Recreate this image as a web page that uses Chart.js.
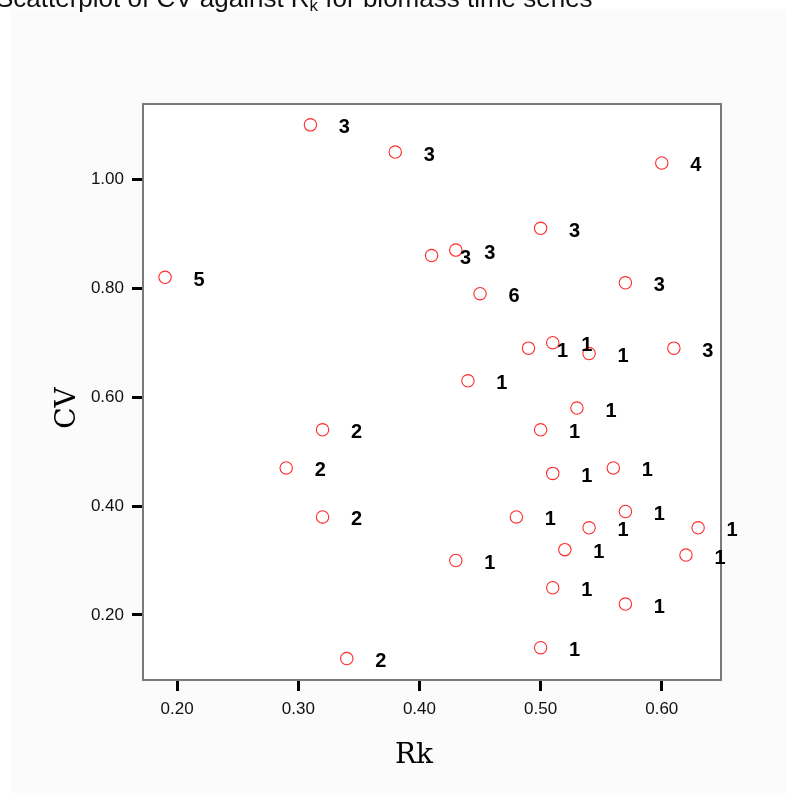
<!DOCTYPE html>
<html>
<head>
<meta charset="utf-8">
<title>Scatterplot of CV against Rk</title>
<script src="https://cdn.jsdelivr.net/npm/chart.js@4.4.1/dist/chart.umd.min.js"></script>
<style>
  html, body { margin: 0; padding: 0; background: #fff; overflow: hidden; }
</style>
</head>
<body>
<canvas id="scatter" width="798" height="802"></canvas>
<script>
// Data
const rkValues = [0.31, 0.38, 0.60, 0.50, 0.43, 0.41, 0.19, 0.57, 0.45, 0.51, 0.49, 0.54, 0.61, 0.44,
                  0.53, 0.32, 0.50, 0.29, 0.56, 0.51, 0.32, 0.48, 0.57, 0.54, 0.63, 0.52, 0.43, 0.62,
                  0.51, 0.57, 0.34, 0.50];
const cvValues = [1.10, 1.05, 1.03, 0.91, 0.87, 0.86, 0.82, 0.81, 0.79, 0.70, 0.69, 0.68, 0.69, 0.63,
                  0.58, 0.54, 0.54, 0.47, 0.47, 0.46, 0.38, 0.38, 0.39, 0.36, 0.36, 0.32, 0.30, 0.31,
                  0.25, 0.22, 0.12, 0.14];
const caseLabels = ['3', '3', '4', '3', '3', '3', '5', '3', '6', '1', '1', '1', '3', '1',
                    '1', '2', '1', '2', '1', '1', '2', '1', '1', '1', '1', '1', '1', '1',
                    '1', '1', '2', '1'];
const xTickValues = [0.20, 0.30, 0.40, 0.50, 0.60];
const yTickValues = [0.20, 0.40, 0.60, 0.80, 1.00];
const xAxisTitle = 'Rk';
const yAxisTitle = 'CV';

document.addEventListener('DOMContentLoaded', function() {
    const points = rkValues.map((rk, i) => ({ x: rk, y: cvValues[i] }));

    // Desenha moldura, rótulos dos casos e títulos
    const spssPlugin = {
        id: 'spssPlugin',
        beforeDraw(chart) {
            const ctx = chart.ctx;
            ctx.save();
            ctx.fillStyle = '#fbfbfb';
            ctx.fillRect(11, 9, chart.width - 22, chart.height - 18);
            ctx.restore();
        },
        beforeDatasetsDraw(chart) {
            const a = chart.chartArea;
            const ctx = chart.ctx;
            ctx.save();
            ctx.fillStyle = '#ffffff';
            ctx.fillRect(a.left, a.top, a.right - a.left, a.bottom - a.top);
            ctx.strokeStyle = '#7a7a7a';
            ctx.lineWidth = 2;
            ctx.strokeRect(a.left, a.top, a.right - a.left, a.bottom - a.top);
            ctx.restore();
        },
        afterDatasetsDraw(chart) {
            const ctx = chart.ctx;
            const meta = chart.getDatasetMeta(0);
            ctx.save();
            ctx.fillStyle = '#000';
            ctx.font = 'bold 20px "Liberation Sans", Arial, sans-serif';
            ctx.textAlign = 'center';
            ctx.textBaseline = 'middle';
            meta.data.forEach((pt, i) => {
                ctx.fillText(caseLabels[i], pt.x + 34, pt.y + 3);
            });
            ctx.restore();
        },
        afterDraw(chart) {
            const ctx = chart.ctx;
            ctx.save();
            ctx.fillStyle = '#111';
            ctx.textBaseline = 'alphabetic';
            ctx.textAlign = 'left';
            // título (cortado no topo, como na imagem)
            ctx.font = '26px "Liberation Sans", Arial, sans-serif';
            let x = -4;
            const main = 'Scatterplot of CV against R';
            ctx.fillText(main, x, 7);
            x += ctx.measureText(main).width;
            ctx.font = '17px "Liberation Sans", Arial, sans-serif';
            ctx.fillText('k', x, 11);
            x += ctx.measureText('k').width;
            ctx.font = '26px "Liberation Sans", Arial, sans-serif';
            ctx.fillText(' for biomass time series', x, 7);

            // títulos dos eixos
            ctx.fillStyle = '#000';
            ctx.font = '28px "DejaVu Serif", "Liberation Serif", serif';
            ctx.textAlign = 'center';
            ctx.textBaseline = 'middle';
            ctx.fillText(xAxisTitle, 414, 756);
            ctx.translate(68, 408);
            ctx.rotate(-Math.PI / 2);
            ctx.fillText(yAxisTitle, 0, 0);
            ctx.restore();
        }
    };

    const tickFont = { family: '"Liberation Sans", Arial, sans-serif', size: 17 };

    new Chart(document.getElementById('scatter'), {
        type: 'scatter',
        data: {
            datasets: [{
                data: points,
                pointStyle: 'circle',
                pointRadius: 6.2,
                pointHoverRadius: 6.2,
                borderColor: '#ff2a2a',
                backgroundColor: 'rgba(0,0,0,0)',
                borderWidth: 1.1,
                clip: false
            }]
        },
        options: {
            responsive: false,
            animation: false,
            events: [],
            layout: { padding: { left: 0, top: 104, right: 77, bottom: 0 } },
            plugins: {
                legend: { display: false },
                tooltip: { enabled: false },
                title: { display: false }
            },
            scales: {
                x: {
                    type: 'linear',
                    min: 0.1718,
                    max: 0.6489,
                    afterBuildTicks: scale => { scale.ticks = xTickValues.map(v => ({ value: v })); },
                    afterFit: scale => { scale.height = 122; },
                    grid: {
                        drawOnChartArea: false,
                        drawTicks: true,
                        tickLength: 11,
                        tickColor: '#000',
                        tickWidth: 3
                    },
                    border: { display: false },
                    ticks: {
                        color: '#111',
                        font: tickFont,
                        padding: 8,
                        maxRotation: 0,
                        callback: v => Number(v).toFixed(2)
                    }
                },
                y: {
                    type: 'linear',
                    min: 0.0806,
                    max: 1.1383,
                    afterBuildTicks: scale => { scale.ticks = yTickValues.map(v => ({ value: v })); },
                    afterFit: scale => { scale.width = 143; },
                    grid: {
                        drawOnChartArea: false,
                        drawTicks: true,
                        tickLength: 11,
                        tickColor: '#000',
                        tickWidth: 3
                    },
                    border: { display: false },
                    ticks: {
                        color: '#111',
                        font: tickFont,
                        padding: 8,
                        callback: v => Number(v).toFixed(2)
                    }
                }
            }
        },
        plugins: [spssPlugin]
    });
});
</script>
</body>
</html>
